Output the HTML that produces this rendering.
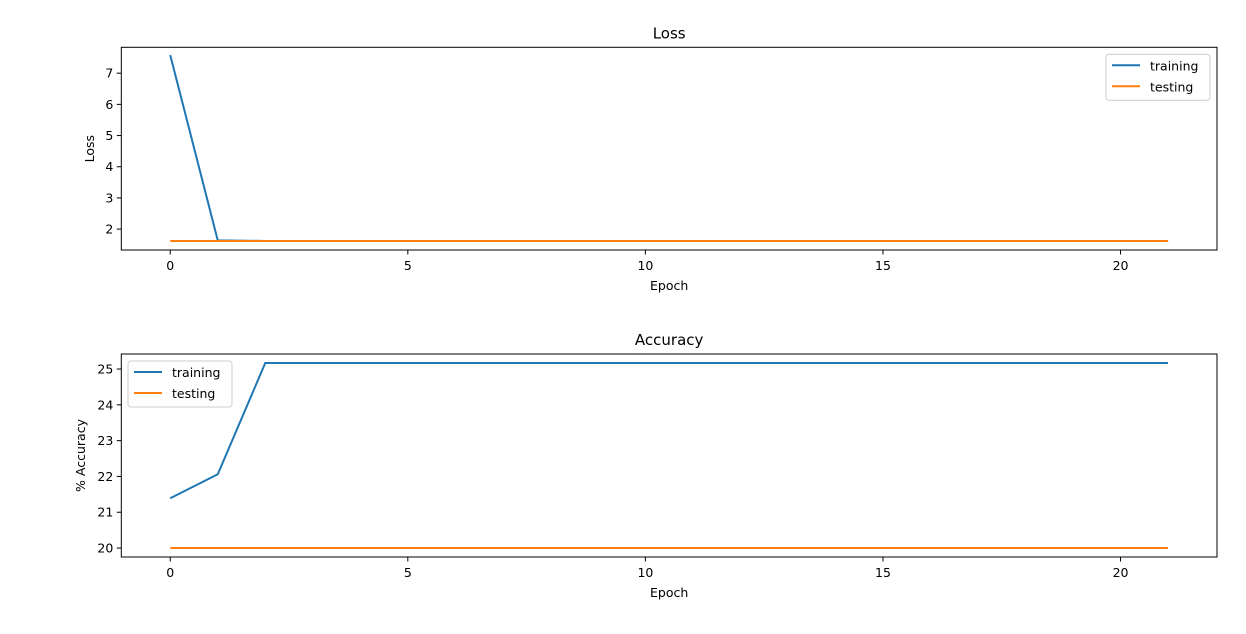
<!DOCTYPE html>
<html><head><meta charset="utf-8"><style>
body{margin:0;background:#fff}
svg{display:block;font-family:"DejaVu Sans","Liberation Sans",sans-serif}
</style></head><body>
<svg id="c" width="1246" height="634" xmlns="http://www.w3.org/2000/svg"></svg>
<script>
const epochs=[0,1,2,3,4,5,6,7,8,9,10,11,12,13,14,15,16,17,18,19,20,21];
const lossTrain=[7.58,1.64,1.62,1.62,1.62,1.62,1.62,1.62,1.62,1.62,1.62,1.62,1.62,1.62,1.62,1.62,1.62,1.62,1.62,1.62,1.62,1.62];
const lossTest=[1.62,1.62,1.62,1.62,1.62,1.62,1.62,1.62,1.62,1.62,1.62,1.62,1.62,1.62,1.62,1.62,1.62,1.62,1.62,1.62,1.62,1.62];
const accTrain=[21.39,22.06,25.17,25.17,25.17,25.17,25.17,25.17,25.17,25.17,25.17,25.17,25.17,25.17,25.17,25.17,25.17,25.17,25.17,25.17,25.17,25.17];
const accTest=[20,20,20,20,20,20,20,20,20,20,20,20,20,20,20,20,20,20,20,20,20,20];
const xTicks=[0,5,10,15,20];
const lossTicks=[2,3,4,5,6,7];
const accTicks=[20,21,22,23,24,25];

const svg=document.getElementById('c');
const NS='http://www.w3.org/2000/svg';
function mk(t,a,p){const e=document.createElementNS(NS,t);for(const k in a)e.setAttribute(k,a[k]);(p||svg).appendChild(e);return e;}
const X0=121.3,X1=1217,xmin=-1.03,xmax=22.03;
const xs=v=>X0+(v-xmin)/(xmax-xmin)*(X1-X0);

function panel(name,top,bot,ymin,ymax,yticks,title,ylabel,tr,te,legendLeft){
  const g=mk('g',{});
  
  
  const ys=v=>bot-(v-ymin)/(ymax-ymin)*(bot-top);
  mk('rect',{x:X0,y:top,width:X1-X0,height:bot-top,fill:'#fff'},g);
  const mkLine=(arr,col,n)=>{
    const p=mk('polyline',{points:epochs.map((e,i)=>xs(e)+','+ys(arr[i])).join(' '),fill:'none',stroke:col,'stroke-width':2},g);
    
    
  };
  mkLine(tr,'#1f77b4','training');
  mkLine(te,'#ff7f0e','testing');
  const fr=mk('rect',{x:X0,y:top,width:X1-X0,height:bot-top,fill:'none',stroke:'#000','stroke-width':1},g);
  
  
  xTicks.forEach(t=>{
    mk('line',{x1:xs(t),x2:xs(t),y1:bot,y2:bot+4.5,stroke:'#000','stroke-width':1},g);
    const l=mk('text',{x:xs(t),y:bot+20,'font-size':12.5,'text-anchor':'middle'},g);l.textContent=t;
    
    
  });
  yticks.forEach(t=>{
    mk('line',{x1:X0,x2:X0-4.5,y1:ys(t),y2:ys(t),stroke:'#000','stroke-width':1},g);
    const l=mk('text',{x:X0-8,y:ys(t)+4.5,'font-size':12.5,'text-anchor':'end'},g);l.textContent=t;
    
    
  });
  const tt=mk('text',{x:(X0+X1)/2,y:top-9,'font-size':15,'text-anchor':'middle'},g);tt.textContent=title;
  
  
  const xl=mk('text',{x:(X0+X1)/2,y:bot+40,'font-size':12.5,'text-anchor':'middle'},g);xl.textContent='Epoch';
  
  
  const yl=mk('text',{x:0,y:0,'font-size':12.5,'text-anchor':'middle',transform:`translate(${legendLeft?85:94},${(top+bot)/2}) rotate(-90)`},g);yl.textContent=ylabel;
  
  
  const lx=legendLeft?128:1106,ly=top+7;
  const lg=mk('g',{},g);
  
  
  mk('rect',{x:lx,y:ly,width:104,height:46,rx:3,fill:'#fff','fill-opacity':0.8,stroke:'#ccc'},lg);
  [['training','#1f77b4'],['testing','#ff7f0e']].forEach((d,i)=>{
    mk('line',{x1:lx+6,x2:lx+34,y1:ly+11+i*21,y2:ly+11+i*21,stroke:d[1],'stroke-width':2},lg);
    const t=mk('text',{x:lx+44,y:ly+16+i*21,'font-size':12.5},lg);t.textContent=d[0];
    
    
  });
}
panel('loss',47.3,250,1.33,7.83,lossTicks,'Loss','Loss',lossTrain,lossTest,false);
panel('accuracy',354,557,19.75,25.42,accTicks,'Accuracy','% Accuracy',accTrain,accTest,true);
</script>
</body></html>
